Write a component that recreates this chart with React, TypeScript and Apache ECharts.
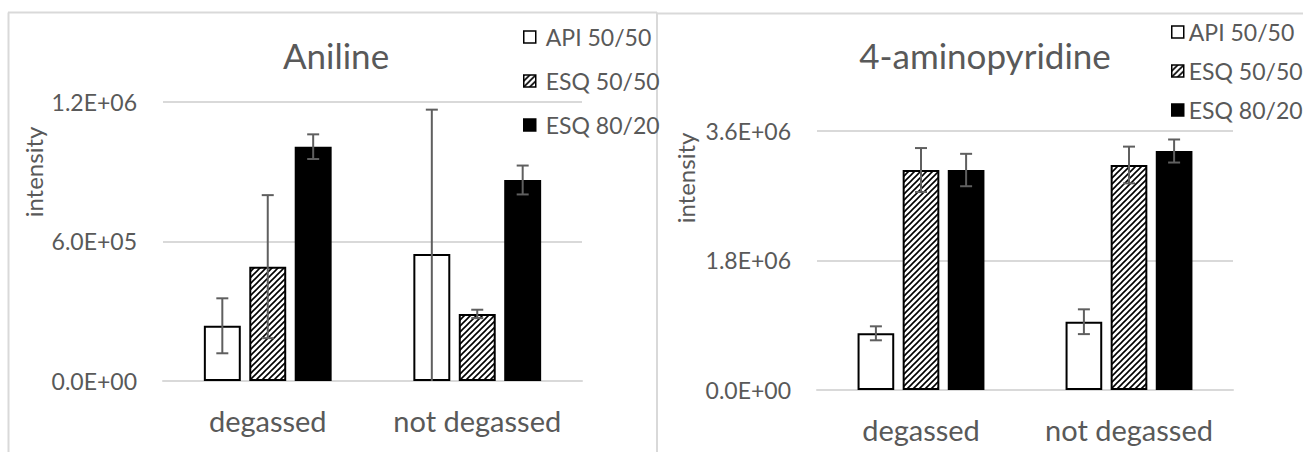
import React, { useEffect, useRef } from "react";
import * as echarts from "echarts";

// ---- data ----
const categories = ["degassed", "not degassed"];
const seriesNames = ["API 50/50", "ESQ 50/50", "ESQ 80/20"];

// Aniline
const anilineAPI = [237000, 545000];
const anilineESQ5050 = [491000, 288000];
const anilineESQ8020 = [1006000, 863000];
const anilineErrAPI = [118000, 620000];
const anilineErrESQ5050 = [307000, 18000];
const anilineErrESQ8020 = [53000, 62000];
const anilineTicks = ["0.0E+00", "6.0E+05", "1.2E+06"];
const anilineInterval = 600000;

// 4-aminopyridine
const apAPI = [787000, 948000];
const apESQ5050 = [3054000, 3124000];
const apESQ8020 = [3054000, 3318000];
const apErrAPI = [97000, 172000];
const apErrESQ5050 = [305000, 255000];
const apErrESQ8020 = [225000, 160000];
const apTicks = ["0.0E+00", "1.8E+06", "3.6E+06"];
const apInterval = 1800000;

const FONT = "Lato";
const GRAY = "#595959";
const LINE = "#d9d9d9";
const BAR_CAT_GAP = 0.39;
const BAR_GAP = 0.23;

function makeHatch(): HTMLCanvasElement {
  const c = document.createElement("canvas");
  c.width = 6;
  c.height = 6;
  const ctx = c.getContext("2d")!;
  ctx.fillStyle = "#fff";
  ctx.fillRect(0, 0, 6, 6);
  ctx.strokeStyle = "#000";
  ctx.lineWidth = 1.6;
  ctx.beginPath();
  ctx.moveTo(-1, 7);
  ctx.lineTo(7, -1);
  ctx.moveTo(-4, 4);
  ctx.lineTo(4, -4);
  ctx.moveTo(2, 10);
  ctx.lineTo(10, 2);
  ctx.stroke();
  return c;
}

export default function App() {
  const ref = useRef<HTMLDivElement>(null);
  useEffect(() => {
    if (!ref.current) return;
    const chart = echarts.init(ref.current, undefined, { renderer: "svg" });
    const hatch = { image: makeHatch(), repeat: "repeat" } as any;

    const styles = [
      { color: "#fff", borderColor: "#000", borderWidth: 2 },
      { color: hatch, borderColor: "#000", borderWidth: 2 },
      { color: "#000", borderColor: "#000", borderWidth: 2 },
    ];

    const errSeries = (
      idx: number,
      k: number,
      vals: number[],
      errs: number[]
    ) => ({
      type: "custom",
      name: "err" + idx + "-" + k,
      xAxisIndex: idx,
      yAxisIndex: idx,
      z: 5,
      silent: true,
      data: vals.map((v, i) => [i, v - errs[i], v + errs[i]]),
      renderItem: (params: any, api: any) => {
        const xi = api.value(0);
        let lo = api.value(1);
        const hi = api.value(2);
        const clipped = lo < 0;
        if (clipped) lo = 0;
        const band = api.size([1, 0])[0];
        const bw = (band * (1 - BAR_CAT_GAP)) / (3 + 2 * BAR_GAP);
        const pLo = api.coord([xi, lo]);
        const pHi = api.coord([xi, hi]);
        const x = pLo[0] + (k - 1) * bw * (1 + BAR_GAP);
        const st = { stroke: "#5f5f5f", lineWidth: 2 };
        const children: any[] = [
          { type: "line", shape: { x1: x, y1: pLo[1], x2: x, y2: pHi[1] }, style: st },
          { type: "line", shape: { x1: x - 6, y1: pHi[1], x2: x + 6, y2: pHi[1] }, style: st },
        ];
        if (!clipped)
          children.push({
            type: "line",
            shape: { x1: x - 6, y1: pLo[1], x2: x + 6, y2: pLo[1] },
            style: st,
          });
        return { type: "group", children };
      },
    });

    const barSeries = (idx: number, k: number, vals: number[]) => ({
      type: "bar",
      name: seriesNames[k],
      xAxisIndex: idx,
      yAxisIndex: idx,
      data: vals,
      barCategoryGap: BAR_CAT_GAP * 100 + "%",
      barGap: BAR_GAP * 100 + "%",
      itemStyle: styles[k],
      emphasis: { disabled: true },
    });

    const legendData = seriesNames.map((n, k) => ({
      name: n,
      itemStyle: { ...styles[k], borderWidth: 1.5 },
    }));
    const legendCommon = (pad: number) => ({
      orient: "vertical",
      icon: "rect",
      itemWidth: 12,
      itemHeight: 12,
      selectedMode: false,
      data: legendData,
      textStyle: {
        fontFamily: FONT,
        fontSize: 23,
        color: GRAY,
        lineHeight: 24,
        padding: [0, 0, 0, pad],
      },
    });

    const yAxisCommon = (max: number, interval: number, ticks: string[]) => ({
      type: "value",
      min: 0,
      max,
      interval,
      axisLine: { show: false },
      axisTick: { show: false },
      splitLine: { lineStyle: { color: LINE, width: 2 } },
      axisLabel: {
        fontFamily: FONT,
        fontSize: 23,
        color: GRAY,
        margin: 26,
        formatter: (v: number) => ticks[Math.round(v / interval)],
      },
    });

    const xAxisCommon = {
      type: "category",
      data: categories,
      axisTick: { show: false },
      axisLine: { lineStyle: { color: LINE, width: 2 } },
      axisLabel: { interval: 0, fontFamily: FONT, fontSize: 29, color: GRAY, margin: 25 },
    };

    const titleStyle = { fontFamily: FONT, fontSize: 35, fontWeight: "normal", color: GRAY };

    chart.setOption({
      animation: false,
      backgroundColor: "#fff",
      title: [
        { text: "Aniline", left: 331, top: 32, textAlign: "center", textStyle: titleStyle },
        { text: "4-aminopyridine", left: 980, top: 32, textAlign: "center", textStyle: titleStyle },
      ],
      legend: [
        { ...legendCommon(5), left: 518, top: 20, itemGap: 20 },
        { ...legendCommon(0), left: 1166, top: 15, itemGap: 15 },
      ],
      grid: [
        { left: 163, right: 721, top: 101.5, bottom: 71 },
        { left: 817, right: 70, top: 130.7, bottom: 62 },
      ],
      xAxis: [
        { ...xAxisCommon, gridIndex: 0 },
        { ...xAxisCommon, gridIndex: 1 },
      ],
      yAxis: [
        { ...yAxisCommon(1200000, anilineInterval, anilineTicks), gridIndex: 0 },
        { ...yAxisCommon(3600000, apInterval, apTicks), gridIndex: 1 },
      ],
      graphic: [
        { type: "line", shape: { x1: 8.5, y1: 12.5, x2: 8.5, y2: 460 }, style: { stroke: LINE, lineWidth: 2 } },
        { type: "line", shape: { x1: 8, y1: 12.5, x2: 657, y2: 12.5 }, style: { stroke: LINE, lineWidth: 2 } },
        { type: "line", shape: { x1: 657, y1: 12.5, x2: 657, y2: 460 }, style: { stroke: LINE, lineWidth: 2 } },
        { type: "line", shape: { x1: 657, y1: 13.5, x2: 1303, y2: 13.5 }, style: { stroke: LINE, lineWidth: 2 } },
        {
          type: "text",
          x: 33,
          y: 172,
          rotation: Math.PI / 2,
          style: { text: "intensity", fontFamily: FONT, fontSize: 24, fill: GRAY, align: "center", verticalAlign: "middle" },
        },
        {
          type: "text",
          x: 685,
          y: 178,
          rotation: Math.PI / 2,
          style: { text: "intensity", fontFamily: FONT, fontSize: 24, fill: GRAY, align: "center", verticalAlign: "middle" },
        },
      ],
      series: [
        barSeries(0, 0, anilineAPI),
        barSeries(0, 1, anilineESQ5050),
        barSeries(0, 2, anilineESQ8020),
        barSeries(1, 0, apAPI),
        barSeries(1, 1, apESQ5050),
        barSeries(1, 2, apESQ8020),
        errSeries(0, 0, anilineAPI, anilineErrAPI),
        errSeries(0, 1, anilineESQ5050, anilineErrESQ5050),
        errSeries(0, 2, anilineESQ8020, anilineErrESQ8020),
        errSeries(1, 0, apAPI, apErrAPI),
        errSeries(1, 1, apESQ5050, apErrESQ5050),
        errSeries(1, 2, apESQ8020, apErrESQ8020),
      ],
    });
    return () => chart.dispose();
  }, []);
  return (
    <div
      ref={ref}
      style={{ position: "absolute", left: 0, top: 0, width: 1303, height: 452 }}
    />
  );
}
